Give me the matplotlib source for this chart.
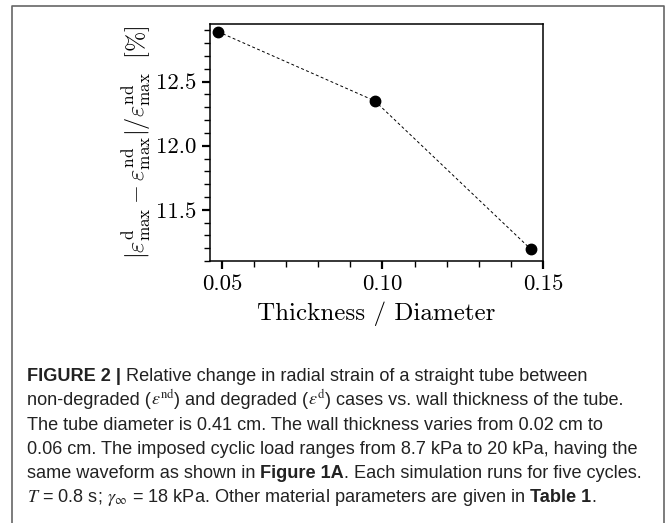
import numpy as np
import matplotlib
matplotlib.use('Agg')
import matplotlib.pyplot as plt
from matplotlib.lines import Line2D
from matplotlib.ticker import MultipleLocator

# Data (thickness / diameter vs relative strain change)
thickness_ratio = [0.0488, 0.0976, 0.1463]
strain_change = [12.89, 12.35, 11.19]

x_ticks = [0.05, 0.10, 0.15]
y_ticks = [11.5, 12.0, 12.5]

caption_lines = [
    [("FIGURE 2 |", 'bold'), (" Relative change in radial strain of a straight tube between", 'normal')],
    [("non-degraded (", 'normal'), (r"$\varepsilon^{\mathrm{nd}}$", 'normal'),
     (") and degraded (", 'normal'), (r"$\varepsilon^{\mathrm{d}}$", 'normal'),
     (") cases vs. wall thickness of the tube.", 'normal')],
    [("The tube diameter is 0.41 cm. The wall thickness varies from 0.02 cm to", 'normal')],
    [("0.06 cm. The imposed cyclic load ranges from 8.7 kPa to 20 kPa, having the", 'normal')],
    [("same waveform as shown in ", 'normal'), ("Figure 1A", 'bold'),
     (". Each simulation runs for five cycles.", 'normal')],
    [(r"$T$ = 0.8 s; $\gamma_{\infty}$ = 18 kPa. Other material parameters are given in ", 'normal'),
     ("Table 1", 'bold'), (".", 'normal')],
]

W, H = 667, 523
plt.rcParams['mathtext.fontset'] = 'cm'
plt.rcParams['font.family'] = 'serif'
plt.rcParams['font.serif'] = ['cmr10']
plt.rcParams['axes.formatter.use_mathtext'] = True

fig = plt.figure(figsize=(W / 100, H / 100), dpi=100)
ax = fig.add_axes([210 / W, 1 - 261 / H, 333 / W, 237 / H])

ax.plot(thickness_ratio, strain_change, color='black', linestyle=(0, (3, 2.5)),
        linewidth=0.7, marker='o', markersize=7.5)

ax.set_xlim(0.0463, 0.15)
ax.set_ylim(11.10, 12.95)
ax.set_xticks(x_ticks)
ax.set_yticks(y_ticks)
ax.set_xticklabels(['0.05', '0.10', '0.15'])
ax.set_yticklabels(['11.5', '12.0', '12.5'])
ax.xaxis.set_minor_locator(MultipleLocator(0.01))
ax.yaxis.set_minor_locator(MultipleLocator(0.1))
ax.tick_params(which='major', direction='out', length=6, width=1.6, labelsize=16.5, pad=4)
ax.tick_params(which='minor', direction='out', length=4, width=1.0)
ax.tick_params(top=False, right=False, which='both')
for s in ax.spines.values():
    s.set_linewidth(1.1)

ax.set_xlabel('Thickness / Diameter', fontsize=18, labelpad=5)
ax.set_ylabel(r'$|\varepsilon^{\mathrm{d}}_{\mathrm{max}} - \varepsilon^{\mathrm{nd}}_{\mathrm{max}}|'
              r'/\varepsilon^{\mathrm{nd}}_{\mathrm{max}}\ \ [\%]$', fontsize=17.5, labelpad=2)

# frame around the figure panel (open at the bottom)
fig.add_artist(Line2D([12 / W, 12 / W, 664 / W, 664 / W], [0, 1 - 6 / H, 1 - 6 / H, 0],
                      transform=fig.transFigure, color='#666666', linewidth=1.2))

# caption, drawn piece by piece so bold and normal text can share a line
cap_font = ['Liberation Sans', 'DejaVu Sans']
renderer = fig.canvas.get_renderer()


def seg_width(txt, weight, size):
    probe = fig.text(0, 0, '|' + txt + '|', fontsize=size, fontweight=weight,
                     family=cap_font, math_fontfamily='stix')
    bar = fig.text(0, 0, '||', fontsize=size, fontweight=weight, family=cap_font)
    w = probe.get_window_extent(renderer).width - bar.get_window_extent(renderer).width
    probe.remove()
    bar.remove()
    return w


# pick the caption size so the longest line spans the same width as in the original
ref = caption_lines[3][0][0]
cap_size = 10 * 612 / seg_width(ref, 'normal', 10)

y0, dy = 381, 24.3
for i, line in enumerate(caption_lines):
    x = 27
    for txt, weight in line:
        fig.text(x / W, 1 - (y0 + i * dy) / H, txt, fontsize=cap_size, fontweight=weight,
                 family=cap_font, math_fontfamily='stix', va='baseline', color='#222222')
        x += seg_width(txt, weight, cap_size)

fig.savefig('out.png', dpi=100)
